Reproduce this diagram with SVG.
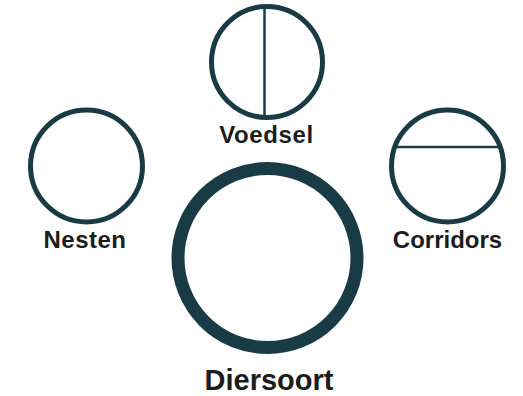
<svg xmlns="http://www.w3.org/2000/svg" width="523" height="396" viewBox="0 0 523 396">
  <style>
    .ring { fill: #ffffff; stroke: #193b45; stroke-width: 5; }
    .big { fill: #ffffff; stroke: #193b45; stroke-width: 13; }
    .div { stroke: #193b45; stroke-width: 2.5; fill: none; }
    .lbl { font-family: "Liberation Sans", Arial, sans-serif; font-weight: bold; fill: #1c1c1c; text-anchor: middle; }
  </style>
  <rect width="523" height="396" fill="#ffffff"/>
  <g id="connectors"></g>
  <g id="voedsel">
    <circle class="ring" cx="267" cy="62" r="55.5"/>
    <line class="div" x1="264.5" y1="8" x2="264.5" y2="116"/>
    <text class="lbl" x="266.5" y="143" font-size="24" letter-spacing="0.6">Voedsel</text>
  </g>
  <g id="nesten">
    <circle class="ring" cx="86.5" cy="166" r="56"/>
    <text class="lbl" x="85" y="248" font-size="24" letter-spacing="0.5">Nesten</text>
  </g>
  <g id="corridors">
    <circle class="ring" cx="447.5" cy="166" r="56"/>
    <line class="div" x1="394" y1="147" x2="501" y2="147"/>
    <text class="lbl" x="447.5" y="248" font-size="24">Corridors</text>
  </g>
  <g id="diersoort">
    <circle class="big" cx="267.5" cy="258" r="89.5"/>
    <text class="lbl" x="269" y="390" font-size="29">Diersoort</text>
  </g>
</svg>
